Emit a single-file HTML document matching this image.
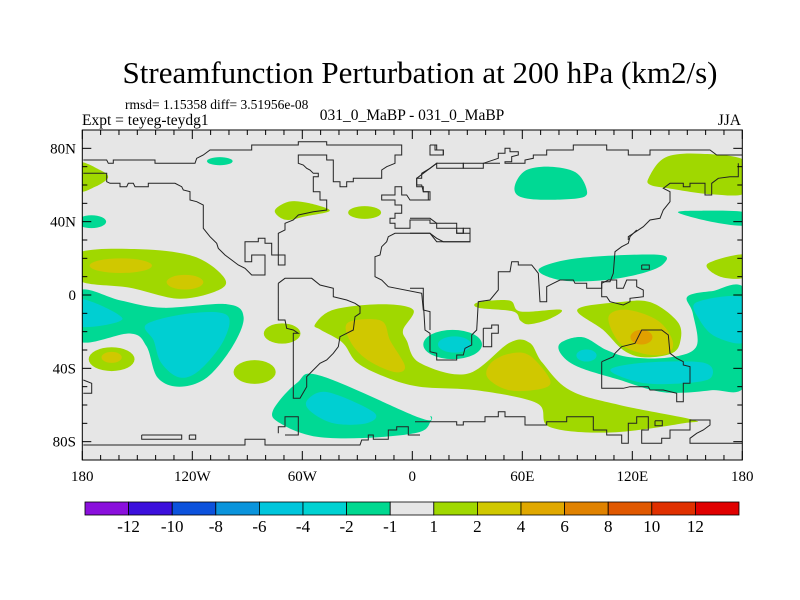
<!DOCTYPE html>
<html><head><meta charset="utf-8">
<style>
html,body{margin:0;padding:0;background:#fff;}
svg{display:block;}
svg text{font-family:"Liberation Serif","Times New Roman",serif;}
</style></head>
<body>
<svg id="chart" width="800" height="600" viewBox="0 0 800 600" xmlns="http://www.w3.org/2000/svg">
<text x="420" y="83" font-size="31" text-anchor="middle">Streamfunction Perturbation at 200 hPa (km2/s)</text>
<text x="125" y="109" font-size="13.5">rmsd= 1.15358 diff= 3.51956e-08</text>
<text x="82" y="125" font-size="15.5">Expt = teyeg-teydg1</text>
<text x="412" y="120" font-size="15.5" text-anchor="middle">031_0_MaBP - 031_0_MaBP</text>
<text x="741" y="125" font-size="15.5" text-anchor="end">JJA</text>
<defs><clipPath id="plotclip"><rect x="82.3" y="130" width="660" height="330"/></clipPath></defs>
<rect x="82.3" y="130" width="660" height="330" fill="#e6e6e6"/>
<g id="fills" clip-path="url(#plotclip)"></g>
<g id="coast" clip-path="url(#plotclip)"></g>
<rect x="82.3" y="130" width="660" height="330" fill="none" stroke="#000" stroke-width="1"/>
<g id="axes"></g>
<g id="cbar"></g>
</svg>
<script>
// ---- data ----
const lonTicks = [-180,-120,-60,0,60,120,180];
const lonTickLabels = ["180","120W","60W","0","60E","120E","180"];
const latTicks = [80,40,0,-40,-80];
const latTickLabels = ["80N","40N","0","40S","80S"];
const cbarLabels = ["-12","-10","-8","-6","-4","-2","-1","1","2","4","6","8","10","12"];
const cbarColors = ["#8a10dc","#3c10dc","#0c52dc","#0a94dc","#00c6dc","#00d2d2","#00d890","#e6e6e6","#a0d800","#d0c800","#e0a800","#e08200","#e05800","#e03000","#e00000"];
const levelColor = {"-4":"#00cfd2","-2":"#00d994","2":"#a0d800","4":"#d0c800","6":"#e0a000"};

// contour polygons (lon,lat) per level
const polyLevels = [2,2,2,2,2,2,-2,-2,-2,-2,-2,-2,-4,-4,-4,-4,-4,2,4,4,4,2];
const polyShapes = [
 [[-182,23],[-148,25],[-119,21],[-103,10],[-105,3],[-127,-2],[-154,4],[-182,8]],
 [[-53,-16],[-43,-8],[-17,-5],[0.5,-8],[-5,-19],[-3,-25],[4,-37],[30,-43],[53,-26],[64,-26],[71,-37],[86,-52],[113,-60],[153,-68],[148,-70],[108,-75],[75,-72],[68,-59],[35,-52],[4,-50],[-14,-45],[-30,-37],[-38,-26],[-50,-19]],
 [[36,-4],[53,-3],[59,-9],[81,-8],[75,-13],[64,-16],[59,-14],[55,-9],[36,-7]],
 [[161,17],[182,22],[182,10],[168,10]],
 [[-182,72],[-170,68],[-166,64],[-173,59],[-182,57]],
 [[129,64],[138,75],[157,77],[182,73],[182,56],[163,55],[141,58],[130,60]],
 [[-182,2],[-159,-3],[-136,-7],[-101,-5],[-92,-12],[-98,-28],[-112,-45],[-127,-50],[-139,-45],[-145,-28],[-154,-21],[-182,-25]],
 [[-76,-63],[-63,-48],[-50,-44],[4,-67],[10,-66],[10,-69],[3,-75],[-27,-78],[-54,-77],[-72,-70]],
 [[56,60],[62,68],[75,70],[89,67],[95,58],[92,53],[70,52],[58,54]],
 [[69,14],[90,20],[134,22],[137,17],[126,12],[104,8],[81,8]],
 [[145,45],[157,46],[182,45],[182,38],[163,40]],
 [[81,-26],[93,-23],[106,-30],[119,-34],[141,-34],[155,-28],[153,-10],[150,-1],[163,2],[182,2],[182,-48],[163,-52],[137,-53],[112,-46],[90,-39],[81,-32]],
 [[-182,-2],[-158,-13],[-182,-17]],
 [[-145,-16],[-121,-10],[-101,-11],[-103,-25],[-116,-41],[-127,-45],[-137,-37],[-141,-25]],
 [[-57,-57],[-46,-53],[-21,-64],[-25,-70],[-43,-70],[-56,-63]],
 [[155,-4],[182,-2],[182,-25],[166,-23],[157,-14]],
 [[108,-41],[126,-37],[159,-37],[163,-45],[150,-48],[126,-48]],
 [[90,-8],[112,-4],[130,-4],[145,-15],[146,-26],[141,-32],[126,-34],[115,-30],[104,-19]],
 [[-35,-15],[-17,-14],[-12,-25],[-4,-39],[-10,-42],[-25,-35],[-34,-25]],
 [[43,-37],[53,-32],[64,-33],[75,-46],[71,-51],[53,-52],[41,-45]],
 [[107,-12],[117,-8],[134,-14],[142,-25],[139,-32],[126,-32],[113,-26]],
 [[-75,46],[-67,51],[-56,50],[-45,46],[-58,43],[-69,41]]
];
// elliptical contour blobs
const ellLon = [-164,-71,-86,-26,-175,-105,22,-159,-124,-164,23,95,125];
const ellLat = [-35,-21,-42,45,40,73,-27,16,7,-34,-27,-33,-23];
const ellRx  = [12.5,10,11.5,9,8,7,16,17,10,5.5,9,5.5,6];
const ellRy  = [6.5,5.5,6.5,3.5,3.5,2.2,8,4,4,3,4.4,3.3,4];
const ellLevel = [2,2,2,2,-2,-2,-2,4,4,4,-4,-4,6];

// ---- axis functions ----
const X0=82.3, X1=742.3, Y0=130, Y1=460;
function xs(lon){return X0+(lon+180)/360*(X1-X0);}
function ys(lat){return Y0+(90-lat)/180*(Y1-Y0);}
const NS="http://www.w3.org/2000/svg";
function mk(tag,attrs,parent){const e=document.createElementNS(NS,tag);for(const k in attrs)e.setAttribute(k,attrs[k]);parent.appendChild(e);return e;}

function smoothPath(pts){
  const n=pts.length;let d="M"+pts[0][0].toFixed(1)+","+pts[0][1].toFixed(1);
  for(let i=0;i<n;i++){
    const p0=pts[(i-1+n)%n],p1=pts[i],p2=pts[(i+1)%n],p3=pts[(i+2)%n];
    const c1=[p1[0]+(p2[0]-p0[0])/6,p1[1]+(p2[1]-p0[1])/6];
    const c2=[p2[0]-(p3[0]-p1[0])/6,p2[1]-(p3[1]-p1[1])/6];
    d+="C"+c1[0].toFixed(1)+","+c1[1].toFixed(1)+" "+c2[0].toFixed(1)+","+c2[1].toFixed(1)+" "+p2[0].toFixed(1)+","+p2[1].toFixed(1);
  }
  return d+"Z";
}
const fills=document.getElementById('fills');
const order=[];
polyShapes.forEach((s,i)=>order.push({t:'p',i,lv:polyLevels[i]}));
ellLon.forEach((s,i)=>order.push({t:'e',i,lv:ellLevel[i]}));
order.sort((a,b)=>Math.abs(a.lv)-Math.abs(b.lv));
order.forEach(o=>{
  let el;
  if(o.t==='p'){
    const pts=polyShapes[o.i].map(p=>[xs(p[0]),ys(p[1])]);
    el=mk('path',{d:smoothPath(pts),fill:levelColor[o.lv]},fills);
    
  } else {
    const cx=xs(ellLon[o.i]),cy=ys(ellLat[o.i]);
    const rx=xs(ellRx[o.i])-xs(0),ry=ys(0)-ys(ellRy[o.i]);
    el=mk('ellipse',{cx,cy,rx,ry,fill:levelColor[o.lv]},fills);
    
  }
  
});

// ---- coastlines (traced outlines, zoom-crop coords scaled 1/3) ----
const coastSegs=[
 [80,130,"10,90 80,90 85,100 100,100 100,90 225,90 225,100 345,100 350,85 370,75 390,60 515,60 515,45 655,45 655,35 740,35 740,45 965,45 965,75 945,75 945,100 920,110 905,120 905,145 820,145 820,155 800,155 800,170 780,170 780,155 760,155 760,90 740,90 740,75 655,75 655,100 670,105 680,115 690,120 700,130 715,130 715,140 700,140 700,185 720,185 720,210 740,210 740,240 700,245 655,255 640,270 615,280 615,300 595,310 595,375 615,375 615,405 595,405 595,375 575,375 575,340 555,340 555,325 535,325 535,335 495,335 495,395 515,395 515,375 555,375 555,435 515,435 495,415 475,405 455,390 435,375 415,355 410,340 390,320 370,295 370,225 350,215 330,210 330,185 310,180 305,170 285,160 205,160 205,170 165,170 160,160 145,160 140,170 120,170 120,160 90,160 80,155 80,130 10,130"],
 [80,130,"1050,45 1070,45 1070,60 1090,60 1090,75 1050,75 1050,45"],
 [80,130,"1260,100 1150,100 1150,115 1070,115 1070,100 1050,115 1025,130 1025,145 1010,145 1010,165 1025,165 1030,185 1050,185 1050,210 990,210 980,195 965,195 965,170 945,170 945,195 905,195 905,210 945,210 945,225 965,225 965,250 945,250 945,265 930,265 930,280 945,280 945,295 990,295 990,270 1050,270 1050,280 1070,280 1070,295 1130,295 1130,310 1150,310 1150,295 1170,295 1170,335 1090,335 1070,325 1050,310 945,310 925,320 920,335 905,350 900,375 885,380 885,440 905,450 925,470 1025,490 1030,540 1050,545 1050,600"],
 [410,230,"0,175 40,175 40,215 45,300 60,310 60,365 80,370 80,390 140,390 140,375 160,375 165,355 185,345 185,315 200,300 205,215 240,210 265,180 265,125 300,125 305,95 325,95 325,105 365,105 385,130 390,215 410,215 410,170 430,160 450,150 490,150 495,160 530,160 530,175 575,175 575,155 600,155 610,130 615,65 635,50 655,40 660,20 680,0"],
 [410,230,"220,295 245,295 245,285 265,285 265,310 245,310 245,350 220,350 220,295"],
 [410,230,"0,10 60,10 80,35 180,35 180,0"],
 [410,230,"140,0 140,10 160,10 160,0"],
 [410,230,"575,160 595,150 620,150 620,175 640,175 650,150 680,150 680,170 700,180 700,200 660,205 660,215 640,225 600,215 590,200 575,200 575,160"],
 [410,230,"695,105 718,105 718,118 695,118 695,105"],
 [410,230,"575,395 610,380 615,370 635,350 675,340 695,300 755,300 775,315 780,370 800,385 820,395 820,405 840,410 840,460 820,460 820,515 800,515 800,490 760,480 720,480 715,470 660,470 640,475 575,475 575,395"],
 [410,230,"15,575 140,575 140,585 160,585 160,575 225,575 225,560 265,560 265,545 285,545 285,560 345,560 345,585 410,585 410,575 470,575 470,560 550,560 550,600 590,600 590,615 635,615 635,640 655,640 655,580 680,580 680,560 715,560 715,600 695,600 695,640 755,640 755,625 780,625 780,600 840,600 840,570 900,570 900,585 880,600 860,610 840,625 840,640 1000,640"],
 [410,230,"735,572 757,572 757,587 735,587 735,572"],
 [80,230,"10,645 495,645 495,628 555,628 555,645 840,645 845,630 865,630 865,615 880,615 880,628 925,628 925,600 950,600 950,590 985,590 985,615 1020,615"],
 [80,230,"595,610 595,590 615,590 615,560 655,560 655,615 615,615"],
 [80,230,"185,615 305,615 305,628 185,628 185,615"],
 [80,230,"328,615 347,615 347,628 328,628 328,615"],
 [80,230,"595,160 615,145 695,145 720,165 760,175 760,200 800,210 825,220 840,230 840,250 825,260 820,300 800,310 780,320 775,350 760,370 740,390 720,400 700,420 680,440 680,470 660,505 640,505 640,310 655,310 640,300 620,295 615,270 595,270 595,160"],
 [80,230,"10,450 35,460 35,490 10,490"],
 [410,130,"655,330 655,320 700,290 720,270 750,265 760,240 780,215 780,185 760,175 780,160 820,160 820,170 840,170 840,160 885,160 885,195 905,195 905,160 925,145 960,140 985,140 985,100"],
 [410,130,"0,210 55,210 55,185 40,185 40,170 20,170 20,145 40,130 60,115 80,100 160,100 160,115 220,115 220,100 265,85 265,70 285,70 285,55 300,55 300,65 325,65 325,75 305,80 305,95 285,95 285,100 345,100 345,90 370,85 370,75 410,75 410,60 490,60 490,45 590,45 590,60 655,60 655,75 720,75 720,60 900,60 920,75 1000,75"],
 [410,130,"60,45 75,45 75,60 100,60 100,75 60,75 60,45"],
 [410,130,"0,265 60,265 80,280 140,280 140,295 160,295 160,310 180,310 180,330"]
];
const coast=document.getElementById('coast');
coastSegs.forEach(s=>{
  const pts=s[2].split(' ').map(p=>{const a=p.split(',');return (s[0]+(+a[0])/3).toFixed(1)+','+(s[1]+(+a[1])/3).toFixed(1);}).join(' ');
  const el=mk('polyline',{points:pts,fill:'none',stroke:'#222','stroke-width':'1'},coast);
  
  
});

// ---- axes ----
const axes=document.getElementById('axes');
for(let lon=-180;lon<=180;lon+=10){
  const major=lon%60===0, L=major?9:5, x=xs(lon);
  const t1=mk('line',{x1:x,x2:x,y1:Y1,y2:Y1-L,stroke:'#000'},axes);
  
  
  const t2=mk('line',{x1:x,x2:x,y1:Y0,y2:Y0+L,stroke:'#000'},axes);
  
  
}
for(let lat=-90;lat<=90;lat+=10){
  const major=(lat%40===0), L=major?9:5, y=ys(lat);
  const t1=mk('line',{x1:X0,x2:X0+L,y1:y,y2:y,stroke:'#000'},axes);
  
  
  const t2=mk('line',{x1:X1,x2:X1-L,y1:y,y2:y,stroke:'#000'},axes);
  
  
}
lonTicks.forEach((lon,i)=>{
  const t=mk('text',{x:xs(lon),y:481,'font-size':'15','text-anchor':'middle'},axes);
  t.textContent=lonTickLabels[i];
  
  
});
latTicks.forEach((lat,i)=>{
  const t=mk('text',{x:76,y:ys(lat)+5,'font-size':'15','text-anchor':'end'},axes);
  t.textContent=latTickLabels[i];
  
  
});

// ---- colorbar ----
const cb=document.getElementById('cbar');
const CB0=85, CB1=739, CBY=502, CBH=13, bw=(CB1-CB0)/cbarColors.length;
cbarColors.forEach((c,i)=>{
  const r=mk('rect',{x:CB0+i*bw,y:CBY,width:bw,height:CBH,fill:c,stroke:'#000','stroke-width':'0.8'},cb);
  
  
});
cbarLabels.forEach((l,i)=>{
  const t=mk('text',{x:CB0+(i+1)*bw,y:532,'font-size':'17','text-anchor':'middle'},cb);
  t.textContent=l;
  
  
});
</script>
</body></html>
